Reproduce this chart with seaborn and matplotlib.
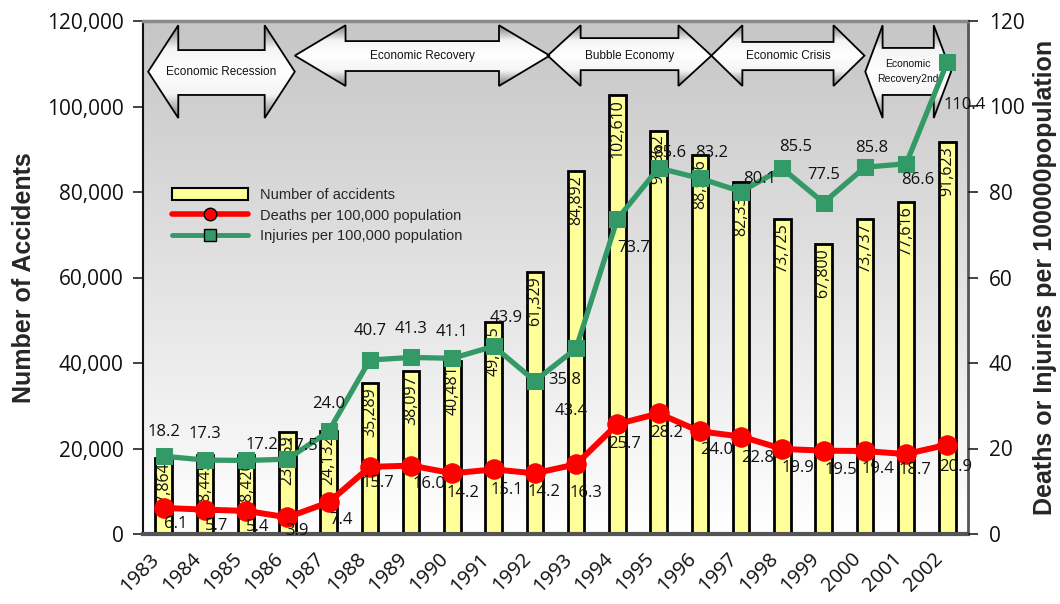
import numpy as np
import pandas as pd
import matplotlib
matplotlib.use("Agg")
import matplotlib.pyplot as plt
import seaborn as sns
from matplotlib.patches import Polygon, Patch
from matplotlib.lines import Line2D
from matplotlib.colors import LinearSegmentedColormap

# ---------------- data ----------------
years = ["1983", "1984", "1985", "1986", "1987", "1988", "1989", "1990", "1991", "1992",
         "1993", "1994", "1995", "1996", "1997", "1998", "1999", "2000", "2001", "2002"]
accidents = [17864, 18445, 18420, 23959, 24132, 35289, 38097, 40481, 49625, 61329,
             84892, 102610, 94362, 88556, 82336, 73725, 67800, 73737, 77616, 91623]
deaths = [6.1, 5.7, 5.4, 3.9, 7.4, 15.7, 16.0, 14.2, 15.1, 14.2,
          16.3, 25.7, 28.2, 24.0, 22.8, 19.9, 19.5, 19.4, 18.7, 20.9]
injuries = [18.2, 17.3, 17.2, 17.5, 24.0, 40.7, 41.3, 41.1, 43.9, 35.8,
            43.4, 73.7, 85.6, 83.2, 80.1, 85.5, 77.5, 85.8, 86.6, 110.4]
period_labels = ["Economic Recession", "Economic Recovery", "Bubble Economy",
                 "Economic Crisis", "Economic\nRecovery2nd"]
left_ticks = [0, 20000, 40000, 60000, 80000, 100000, 120000]
right_ticks = [0, 20, 40, 60, 80, 100, 120]

# ---------------- style / layout ----------------
# arrow geometry: (x_start, x_end, head_len, y_bottom, y_top, body_bottom, body_top, fontsize)
arrow_geom = [
    (-0.375, 3.18, 0.73, 97300, 119000, 102700, 113200, 8.5),
    (3.18, 9.36, 1.23, 104800, 119000, 108300, 115300, 8.5),
    (9.31, 13.28, 0.80, 104800, 119000, 108500, 116000, 8.5),
    (13.28, 16.99, 0.75, 104800, 119000, 108500, 115100, 8.5),
    (17.01, 19.09, 0.42, 97300, 119000, 102700, 113700, 7.5),
]
# label offsets in pixels (dx, dy)
death_off = [(12, -16), (12, -16), (12, -16), (10, -14), (12, -18), (8, -16), (18, -18),
             (11, -20), (13, -21), (9, -19), (10, -29), (7, -20), (8, -20), (17, -19),
             (16, -21), (16, -19), (17, -19), (13, -18), (9, -16), (8, -22)]
inj_off = [(0, 24), (0, 26), (16, 15), (15, 13), (0, 27), (0, 29), (0, 28), (0, 26),
           (13, 28), (30, 1), (-5, -63), (16, -29), (11, 15), (12, 25), (18, 13),
           (13, 21), (0, 28), (7, 19), (12, -16), (17, -43)]

YELLOW = "#FFFF99"
RED = "#FF0000"
GREEN = "#339966"
NUMFONT = ["Open Sans", "DejaVu Sans"]
TXTFONT = ["Liberation Sans", "DejaVu Sans"]

sns.set_theme(style="white")
plt.rcParams["font.family"] = NUMFONT

fig = plt.figure(figsize=(10.6, 6.04), dpi=100)
ax = fig.add_axes([143 / 1060, 1 - 534 / 604, (968 - 143) / 1060, (534 - 21) / 604])

# background gradient
bg_cmap = LinearSegmentedColormap.from_list("bg", ["#ffffff", "#c6c6c6"])
ax.imshow(np.linspace(0, 1, 256).reshape(-1, 1), extent=[0, 1, 0, 1], transform=ax.transAxes,
          cmap=bg_cmap, origin="lower", aspect="auto", zorder=0, interpolation="bilinear")

pos = np.arange(len(years))
df = pd.DataFrame({"year": years, "pos": pos, "accidents": accidents,
                   "deaths": deaths, "injuries": injuries})

sns.barplot(data=df, x="year", y="accidents", ax=ax, color=YELLOW, saturation=1,
            edgecolor="black", linewidth=2, width=0.4, zorder=2)

# arrows
arrow_cmap = LinearSegmentedColormap.from_list("arr", ["#7a7a7a", "#f4f4f4", "#ffffff", "#f4f4f4", "#7a7a7a"])
for lab, (x0, x1, h, yb, yt, bb, bt, fs) in zip(period_labels, arrow_geom):
    yc = (yb + yt) / 2
    pts = [(x0, yc), (x0 + h, yt), (x0 + h, bt), (x1 - h, bt), (x1 - h, yt), (x1, yc),
           (x1 - h, yb), (x1 - h, bb), (x0 + h, bb), (x0 + h, yb)]
    poly = Polygon(pts, closed=True, facecolor="none", edgecolor="black", lw=1.3, zorder=4)
    ax.add_patch(poly)
    im = ax.imshow(np.linspace(0, 1, 256).reshape(-1, 1), extent=(x0, x1, yb, yt),
                   cmap=arrow_cmap, aspect="auto", zorder=3, origin="lower",
                   interpolation="bilinear")
    im.set_clip_path(poly)
    ax.text((x0 + x1) / 2, yc, lab, ha="center", va="center", fontsize=fs,
            family=TXTFONT, color="#111111", zorder=5, linespacing=1.6)

# bar value labels
for p, v in zip(pos, accidents):
    ax.annotate(f"{v:,}", (p, v), xytext=(0, -4), textcoords="offset pixels",
                rotation=90, ha="center", va="top", fontsize=11.5, color="#111111", zorder=6)

ax.set_xlim(-0.5, len(years) - 0.5)
ax.set_ylim(0, 120000)
ax.set_yticks(left_ticks)
ax.set_yticklabels([f"{t:,}" for t in left_ticks])
ax.set_xticks(pos)
ax.set_xticklabels(years, rotation=45, ha="right", rotation_mode="default")
ax.tick_params(axis="x", length=0, pad=11, labelsize=14.5, labelcolor="#111111")
ax.tick_params(axis="y", left=True, length=7, width=1.2, pad=7, labelsize=15,
               labelcolor="#111111", color="#222222", direction="out")
ax.set_xlabel("")
ax.set_ylabel("Number of Accidents", fontsize=18, fontweight="bold", family=TXTFONT, labelpad=8)

ax.spines["left"].set_color("#111111"); ax.spines["left"].set_linewidth(1.5)
ax.spines["top"].set_color("#8a8a8a"); ax.spines["top"].set_linewidth(2.5)
ax.spines["bottom"].set_color("#555555"); ax.spines["bottom"].set_linewidth(3)
ax.spines["right"].set_color("#555555"); ax.spines["right"].set_linewidth(2)

# lines on twin axis
ax2 = ax.twinx()
sns.lineplot(data=df, x="pos", y="deaths", ax=ax2, color=RED, lw=4.3, marker="o",
             markersize=14, markeredgecolor=RED, markerfacecolor=RED, zorder=3)
sns.lineplot(data=df, x="pos", y="injuries", ax=ax2, color=GREEN, lw=3.8, marker="s",
             markersize=11.5, markeredgecolor=GREEN, markerfacecolor=GREEN, zorder=3)

for p, v, (dx, dy) in zip(pos, deaths, death_off):
    ax2.annotate(f"{v:.1f}", (p, v), xytext=(dx, dy), textcoords="offset pixels",
                 ha="center", va="center", fontsize=12, color="#111111", zorder=7)
for p, v, (dx, dy) in zip(pos, injuries, inj_off):
    ax2.annotate(f"{v:.1f}", (p, v), xytext=(dx, dy), textcoords="offset pixels",
                 ha="center", va="center", fontsize=12, color="#111111", zorder=7)

ax2.set_xlim(-0.5, len(years) - 0.5)
ax2.set_ylim(0, 120)
ax2.set_yticks(right_ticks)
ax2.set_yticklabels([str(t) for t in right_ticks])
ax2.tick_params(axis="y", right=True, length=7, width=1.2, pad=8, labelsize=15,
                labelcolor="#111111", color="#222222", direction="out")
ax2.set_xlabel("")
ax2.set_ylabel("Deaths or Injuries per 100000population", fontsize=18, fontweight="bold",
               family=TXTFONT, labelpad=6)
for s in ax2.spines.values():
    s.set_visible(False)
ax2.grid(False); ax.grid(False)

# legend
handles = [Patch(facecolor=YELLOW, edgecolor="black", lw=1.5),
           Line2D([], [], color=RED, lw=4, marker="o", markersize=9,
                  markerfacecolor=RED, markeredgecolor="black"),
           Line2D([], [], color=GREEN, lw=3.5, marker="s", markersize=8,
                  markerfacecolor=GREEN, markeredgecolor="black")]
labels = ["Number of accidents", "Deaths per 100,000 population", "Injuries per 100,000 population"]
leg = ax2.legend(handles, labels, loc="upper left", bbox_to_anchor=(172 / 1060, 1 - 188 / 604),
                 bbox_transform=fig.transFigure, frameon=False,
                 handlelength=5.2, handleheight=0.9, handletextpad=0.8, labelspacing=0.45,
                 borderpad=0, borderaxespad=0, prop={"family": TXTFONT, "size": 10.5})

fig.savefig("out.png", dpi=100)
